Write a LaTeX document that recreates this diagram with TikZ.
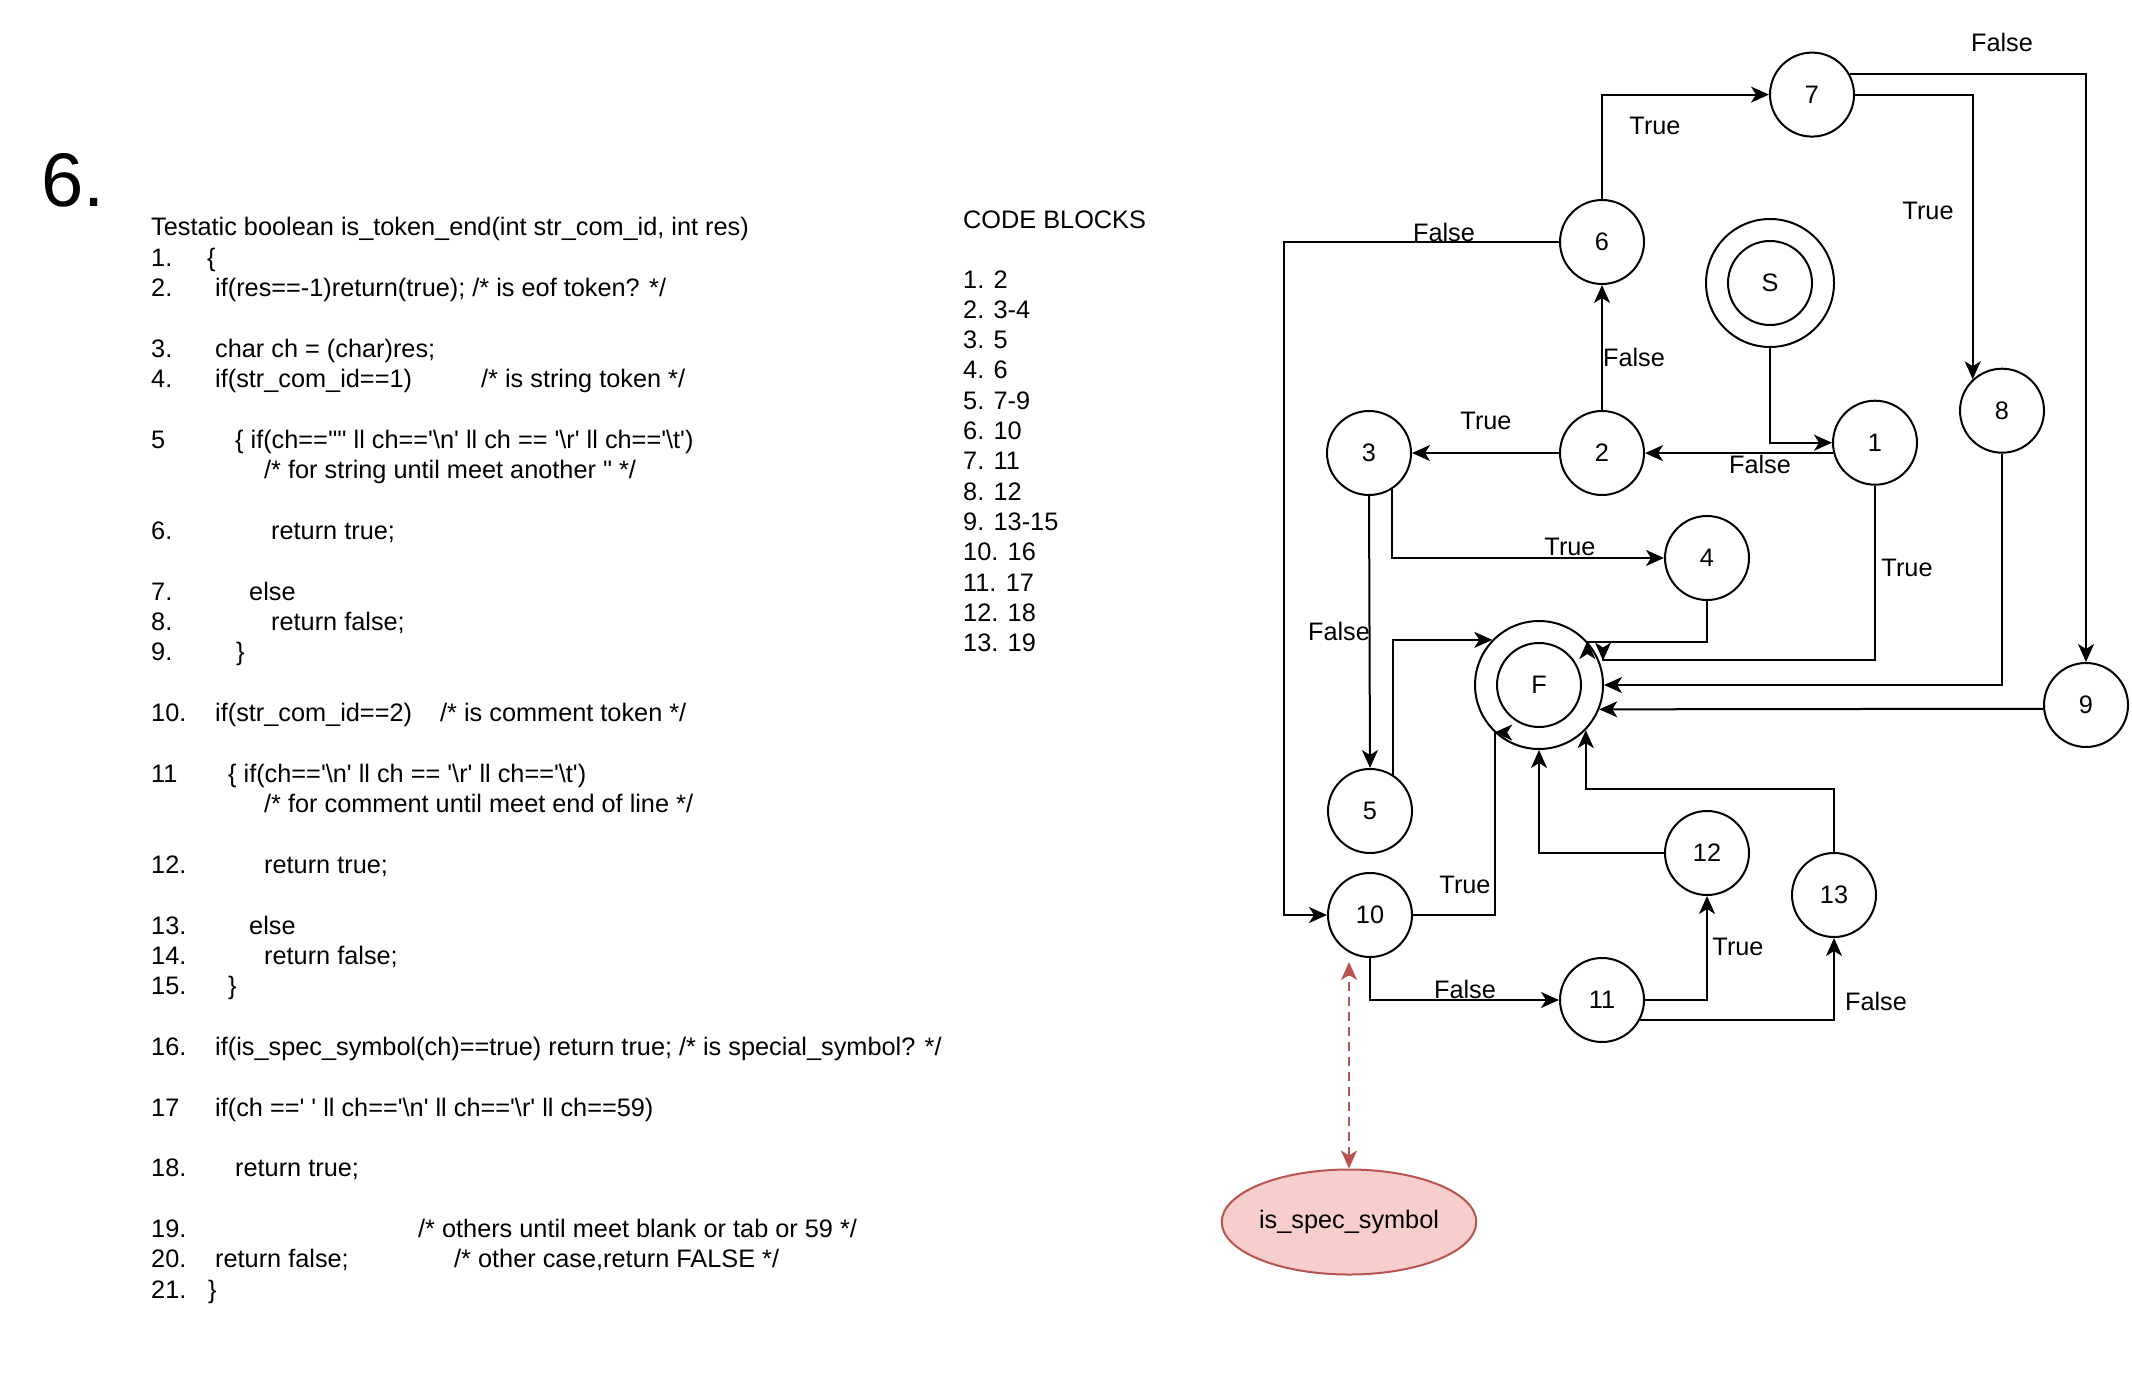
\documentclass[tikz,border=0pt]{standalone}
\usepackage{fontspec}
\setmainfont{Liberation Sans}
\newfontfamily\cf{Liberation Sans}
\usetikzlibrary{arrows.meta,shapes.geometric}

\definecolor{specred}{HTML}{B85450}
\definecolor{specfill}{HTML}{F8CECC}

\newcommand\bs{\textbackslash}
% one numbered source line: index, label
\newcommand\codenum[2]{\node[code] (ln#1) at (151,{236+#1*30.35}) {#2};}
% one piece of source text: name, x, line index, text
\newcommand\codetxt[4]{\node[code] (#1) at (#2,{236+#3*30.35}) {#4};}
% one entry of the block list: name, line index, text
\newcommand\blk[3]{\node[code] (#1) at (963,{288+#2*30.3}) {#3};}

\tikzset{
  txt/.style={font=\cf\fontsize{25.3}{30}\selectfont},
  code/.style={txt, anchor=base west, inner sep=0pt},
  st/.style={txt, circle, draw, line width=2pt, minimum size=84pt, inner sep=0pt},
  lbl/.style={txt, inner sep=0pt},
  arr/.style={-{Stealth[length=18pt,width=16pt,inset=5pt]}, line width=2pt},
  darr/.style={{Stealth[length=18pt,width=16pt,inset=5pt]}-{Stealth[length=18pt,width=16pt,inset=5pt]},
    line width=2pt, draw=specred, dash pattern=on 9pt off 6pt},
  spec/.style={txt, ellipse, draw=specred, fill=specfill, line width=2pt,
    minimum width=254pt, minimum height=105pt, inner sep=0pt}
}

\begin{document}
\begin{tikzpicture}[x=1pt,y=-1pt]
\fill[white] (0,0) rectangle (2132,1388);
\path[use as bounding box] (0,0) rectangle (2132,1388);

% ---------- heading ----------
\node[anchor=base west, inner sep=0pt, font=\cf\fontsize{76}{80}\selectfont] (heading) at (41,207) {6.};

% ---------- source listing ----------
\codetxt{title}{151}{0}{Testatic boolean is\_token\_end(int str\_com\_id, int res)}
\codenum{1}{1.}  \codetxt{t1}{207}{1}{\{}
\codenum{2}{2.}  \codetxt{t2}{215}{2}{if(res==-1)return(true); /* is eof token? */}
\codenum{4}{3.}  \codetxt{t4}{215}{4}{char ch = (char)res;}
\codenum{5}{4.}  \codetxt{t5}{215}{5}{if(str\_com\_id==1)}
\codetxt{t5c}{481}{5}{/* is string token */}
\codenum{7}{5}   \codetxt{t7}{235}{7}{\{ if(ch=='"' ll ch=='\bs n' ll ch == '\bs r' ll ch=='\bs t')}
\codetxt{t8}{264}{8}{/* for string until meet another " */}
\codenum{10}{6.} \codetxt{t10}{271}{10}{return true;}
\codenum{12}{7.} \codetxt{t12}{249}{12}{else}
\codenum{13}{8.} \codetxt{t13}{271}{13}{return false;}
\codenum{14}{9.} \codetxt{t14}{236}{14}{\}}
\codenum{16}{10.} \codetxt{t16}{215}{16}{if(str\_com\_id==2)}
\codetxt{t16c}{440}{16}{/* is comment token */}
\codenum{18}{11} \codetxt{t18}{228}{18}{\{ if(ch=='\bs n' ll ch == '\bs r' ll ch=='\bs t')}
\codetxt{t19}{264}{19}{/* for comment until meet end of line */}
\codenum{21}{12.} \codetxt{t21}{264}{21}{return true;}
\codenum{23}{13.} \codetxt{t23}{249}{23}{else}
\codenum{24}{14.} \codetxt{t24}{264}{24}{return false;}
\codenum{25}{15.} \codetxt{t25}{228}{25}{\}}
\codenum{27}{16.} \codetxt{t27}{215}{27}{if(is\_spec\_symbol(ch)==true) return true; /* is special\_symbol? */}
\codenum{29}{17} \codetxt{t29}{215}{29}{if(ch ==' ' ll ch=='\bs n' ll ch=='\bs r' ll ch==59)}
\codenum{31}{18.} \codetxt{t31}{235}{31}{return true;}
\codenum{33}{19.} \codetxt{t33}{418}{33}{/* others until meet blank or tab or 59 */}
\codenum{34}{20.} \codetxt{t34}{215}{34}{return false;}
\codetxt{t34c}{454}{34}{/* other case,return FALSE */}
\codenum{35}{21.} \codetxt{t35}{208}{35}{\}}

% ---------- code blocks ----------
\node[code] (cbhead) at (963,229) {CODE BLOCKS};
\blk{b1}{0}{1. 2}
\blk{b2}{1}{2. 3-4}
\blk{b3}{2}{3. 5}
\blk{b4}{3}{4. 6}
\blk{b5}{4}{5. 7-9}
\blk{b6}{5}{6. 10}
\blk{b7}{6}{7. 11}
\blk{b8}{7}{8. 12}
\blk{b9}{8}{9. 13-15}
\blk{b10}{9}{10. 16}
\blk{b11}{10}{11. 17}
\blk{b12}{11}{12. 18}
\blk{b13}{12}{13. 19}

% ---------- flow graph ----------
\node[st, minimum size=128pt] (nS) at (1770,283) {};
\node[st] (nSi) at (nS) {S};
\node[st, minimum size=128pt] (F) at (1539,685) {};
\node[st] (Fi) at (F) {F};

\node[st] (n1)  at (1875,442.7) {1};
\node[st] (n2)  at (1602,453)   {2};
\node[st] (n3)  at (1369,453)   {3};
\node[st] (n4)  at (1707,558)   {4};
\node[st] (n5)  at (1370,811)   {5};
\node[st] (n6)  at (1602,242)   {6};
\node[st] (n7)  at (1812,94.6)  {7};
\node[st] (n8)  at (2002,410.7) {8};
\node[st] (n9)  at (2086,705)   {9};
\node[st] (n10) at (1370,915)   {10};
\node[st] (n11) at (1602,1000)  {11};
\node[st] (n12) at (1707,853)   {12};
\node[st] (n13) at (1834,895)   {13};

\node[spec] (spec) at (1349,1222) {is\_spec\_symbol};

% connectors
\draw[arr] (nS.south) |- (n1.west);
\draw[arr] (n1.194) -- (n1.194 -| n2.east);
\draw[arr] (n2.west) -- (n3.east);
\draw[arr] (n2.north) -- (n6.south);
\draw[arr] (n6.north) |- (n7.west);
\draw[arr] (n6.west) -| ([xshift=-43pt]n10.west) -- (n10.west);
\draw[arr] (n7.east) -| (n8.133.6);
\draw[arr] (n7.29.4) -| (n9.north);
\draw[arr] (n3.-57.3) |- (n4.west);
\draw[arr] (n3.south) -- (n5.north);
\draw[arr] (n5.57) |- (F.136.6);
\draw[arr] (n4.south) |- (F.42.8) -- ++(0,-0.5);
\draw[arr] (n1.south) |- ([xshift=64pt,yshift=25pt]F.center) -- ++(0,0.5);
\draw[arr] (n8.south) |- (F.east);
\draw[arr] (n9.185.5) -- (F.-22);
\draw[arr] (n10.east) -| (F.227.8) -- ++(-0.5,0);
\draw[arr] (n12.west) -| (F.south);
\draw[arr] (n13.north) -- ++(0,-63) -| (F.-44.7);
\draw[arr] (n10.south) |- (n11.west);
\draw[arr] (n11.east) -| (n12.south);
\draw[arr] (n11.-28.5) -| (n13.south);
\draw[darr] (spec.north) -- ([xshift=-21pt,yshift=-47pt]n10.center);

% edge labels
\node[lbl] (l79)   at (2002,42)   {False};
\node[lbl] (l67)   at (1655,126)  {True};
\node[lbl] (l78)   at (1928,211)  {True};
\node[lbl] (l610)  at (1444,232)  {False};
\node[lbl] (l26)   at (1634,357)  {False};
\node[lbl] (l23)   at (1486,421)  {True};
\node[lbl] (l12)   at (1760,464)  {False};
\node[lbl] (l34)   at (1570,547)  {True};
\node[lbl] (l1F)   at (1907,568)  {True};
\node[lbl] (l35)   at (1339,631)  {False};
\node[lbl] (l10F)  at (1465,885)  {True};
\node[lbl] (l1011) at (1465,989)  {False};
\node[lbl] (l1112) at (1738,947)  {True};
\node[lbl] (l1113) at (1876,1001) {False};
\end{tikzpicture}
\end{document}
